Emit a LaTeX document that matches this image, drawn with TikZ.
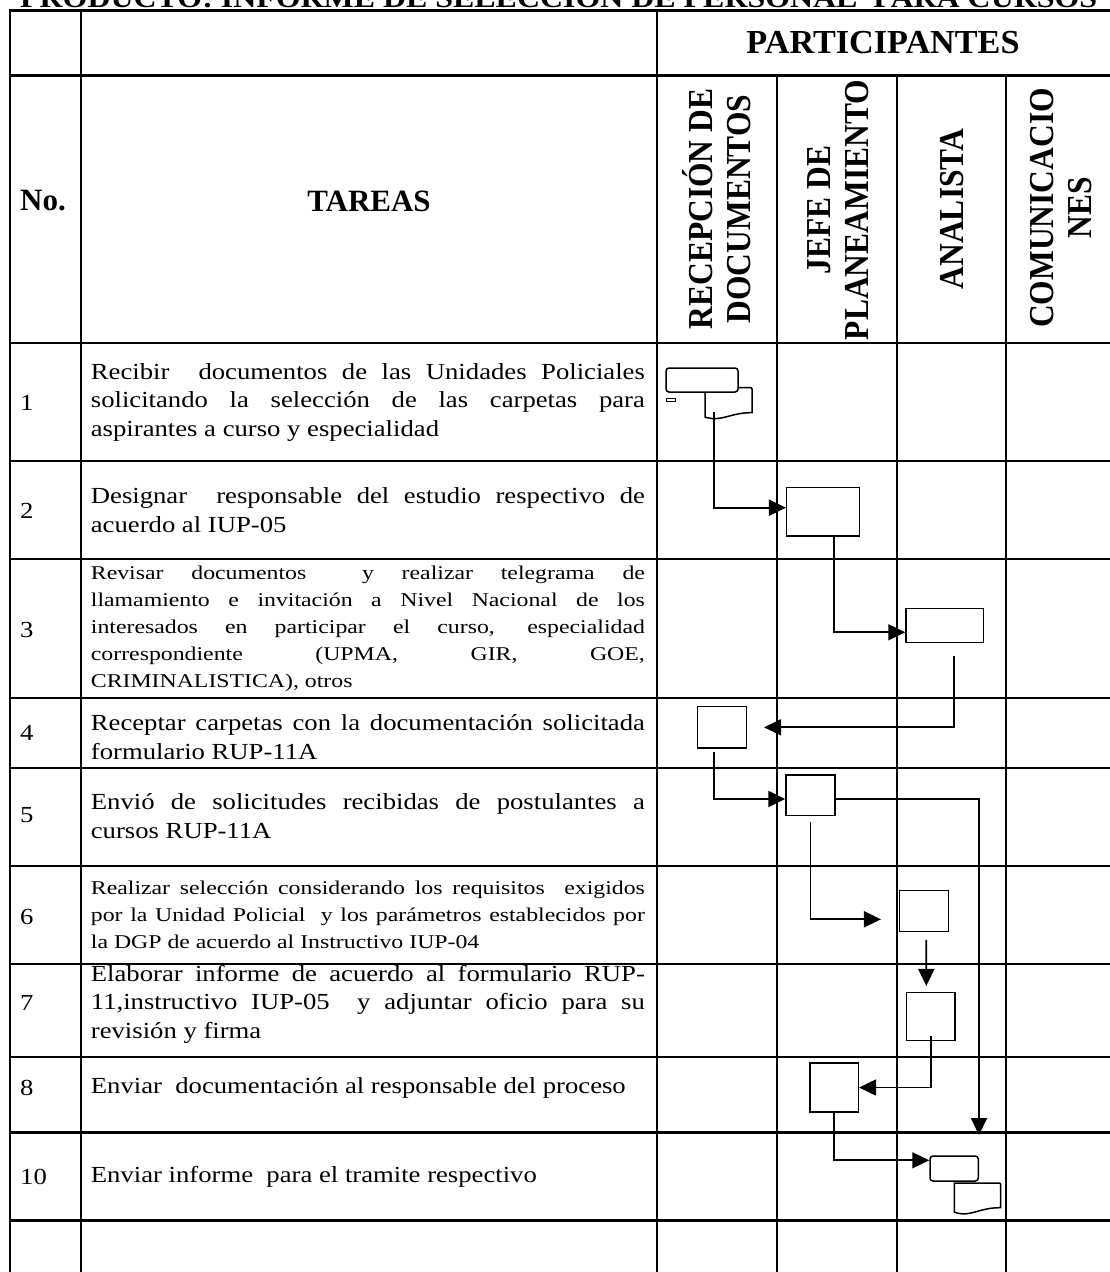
\documentclass[tikz,border=0pt]{standalone}
\usepackage{fontspec}
\setmainfont{Liberation Serif}
\newfontfamily\taskfont{Liberation Serif}[FakeStretch=1.16]
\newfontfamily\smallfont{Liberation Serif}[FakeStretch=1.22]
\newfontfamily\headfont{Liberation Serif}[FakeStretch=0.9]
\newfontfamily\titlefont{Liberation Serif}[FakeStretch=1.14]
\usetikzlibrary{arrows.meta}
\begin{document}
\begin{tikzpicture}[x=1pt,y=-1pt,
  grid/.style={line width=2.2pt, line cap=rect},
  box/.style={draw, line width=1.5pt, fill=white, inner sep=0pt},
  rbox/.style={box, rounded corners=3pt},
  docshape/.style={draw, line width=1.5pt, fill=white},
  conn/.style={line width=1.8pt, -{Triangle[length=17pt,width=16pt]}},
  task/.style={anchor=west, text width=554pt, align=justify, inner sep=0pt,
    font=\taskfont\fontsize{23}{28.5}\selectfont},
  smalltask/.style={task, font=\smallfont\fontsize{19.5}{27}\selectfont},
  num/.style={anchor=west, inner sep=0pt, font=\taskfont\fontsize{23}{28}\selectfont},
  vhead/.style={rotate=90, align=center, inner sep=0pt,
    font=\headfont\bfseries\fontsize{35}{38}\selectfont},
  hhead/.style={inner sep=0pt, font=\bfseries\fontsize{31}{36}\selectfont}
]
\useasboundingbox (0,0) rectangle (1109,1272);
\fill[white] (0,0) rectangle (1109,1272);

% title (cut off at the top, as in the reference)
\node[anchor=base west, inner sep=0pt, font=\titlefont\bfseries\fontsize{28}{34}\selectfont] (title) at (20,7)
  {PRODUCTO: INFORME DE SELECCIÓN DE PERSONAL\ \ PARA CURSOS};

% grid
\draw[grid] (10,10.5) -- (1109,10.5);
\draw[grid] (10,10.5) -- (10,1272);
\foreach \x in {80.7,656.7} \draw[grid] (\x,10.5) -- (\x,1272);
\foreach \x in {777,897,1006} \draw[grid] (\x,75.5) -- (\x,1272);
\foreach \y in {75.5,342.7,460.7,559,697.7,767.7,865.7,963.7,1056.7,1132.5,1220.5}
  \draw[grid] (10,\y) -- (1109,\y);

% headers
\node[inner sep=0pt, font=\titlefont\bfseries\fontsize{30}{36}\selectfont] (hpart) at (883,43) {\scalebox{1}[1.12]{PARTICIPANTES}};
\node[hhead, anchor=west] (hno) at (20,201) {No.};
\node[hhead] (htar) at (369,201) {TAREAS};
\node[vhead] (hrec) at (717,209) {RECEPCIÓN DE\\DOCUMENTOS};
\node[vhead] (hjef) at (838.5,210) {JEFE DE\\PLANEAMIENTO};
\node[vhead] (hana) at (951.7,209) {ANALISTA};
\node[vhead] (hcom) at (1061,208) {COMUNICACIO\\NES};

% numbers
\node[num] (n1) at (20,403) {1};
\node[num] (n2) at (20,511) {2};
\node[num] (n3) at (20,630) {3};
\node[num] (n4) at (20,733) {4};
\node[num] (n5) at (20,815) {5};
\node[num] (n6) at (20,917) {6};
\node[num] (n7) at (20,1003) {7};
\node[num] (n8) at (20,1088) {8};
\node[num] (n10) at (20,1177) {10};

% tasks
\node[task] (t1) at (90.7,402) {Recibir\ \ documentos de las Unidades Policiales\linebreak solicitando la selección de las carpetas para\linebreak aspirantes a curso y especialidad};
\node[task] (t2) at (90.7,510) {Designar\ \ responsable del estudio respectivo de\linebreak acuerdo al IUP-05};
\node[smalltask] (t3) at (90.7,629) {Revisar documentos\ \ y realizar telegrama de\linebreak llamamiento e invitación a Nivel Nacional de los\linebreak interesados en participar el curso, especialidad\linebreak correspondiente (UPMA, GIR, GOE,\linebreak CRIMINALISTICA), otros};
\node[task] (t4) at (90.7,737) {Receptar carpetas con la documentación solicitada\linebreak formulario RUP-11A};
\node[task] (t5) at (90.7,816) {Envió de solicitudes recibidas de postulantes a\linebreak cursos RUP-11A};
\node[smalltask] (t6) at (90.7,915) {Realizar selección considerando los requisitos\ \ exigidos\linebreak por la Unidad Policial\ \ y los parámetros establecidos por\linebreak la DGP de acuerdo al Instructivo IUP-04};
\node[task] (t7) at (90.7,1004) {Elaborar informe de acuerdo al formulario RUP-\linebreak 11,instructivo IUP-05\ \ y adjuntar oficio para su\linebreak revisión y firma};
\node[task] (t8) at (90.7,1088) {Enviar\ \ documentación al responsable del proceso};
\node[task] (t10) at (90.7,1177) {Enviar informe\ \ para el tramite respectivo};

% flow shapes
\node[inner sep=0pt, minimum width=47pt, minimum height=29.3pt] (d1) at (728.5,402.35) {};
\draw[docshape] (705,387.7) -- (751,387.7) to[out=0,in=90] (752,389) -- (752,412.7)
  .. controls (733,412.5) and (725,419.5) .. (712,418.5)
  .. controls (709,418.3) and (706,417.5) .. (705,417) -- cycle;
\node[rbox, minimum width=72pt, minimum height=24pt] (r1) at (702,380) {};
\node[draw, line width=1.1pt, minimum width=9pt, minimum height=3pt, inner sep=0pt] (mk) at (671,400) {};

\node[box, minimum width=72.6pt, minimum height=48.3pt] (b2) at (823,511.85) {};
\node[box, minimum width=77.3pt, minimum height=34.4pt] (b3) at (944.65,625.5) {};
\node[box, minimum width=49pt, minimum height=41.3pt] (b4) at (722.2,727.35) {};
\node[box, minimum width=49pt, minimum height=40.7pt] (b5) at (810.5,795.35) {};
\node[box, minimum width=49pt, minimum height=41pt] (b6) at (923.8,911.2) {};
\node[box, minimum width=48.7pt, minimum height=48.4pt] (b7) at (930.65,1016.5) {};
\node[box, minimum width=48.3pt, minimum height=49pt] (b8) at (834.15,1087.5) {};
\node[rbox, minimum width=48.3pt, minimum height=25pt] (r10) at (954.15,1168.5) {};
\node[inner sep=0pt, minimum width=46.4pt, minimum height=30pt] (d10) at (977.5,1198) {};
\draw[docshape] (954.3,1183) -- (999.7,1183) to[out=0,in=90] (1000.7,1184.3) -- (1000.7,1207.7)
  .. controls (982,1207.5) and (974,1214.5) .. (962,1213.8)
  .. controls (958,1213.5) and (955.5,1212.6) .. (954.3,1212) -- cycle;
\coordinate (e5) at (979,1135);

% connectors
\draw[conn] ([xshift=-14.5pt,yshift=5.3pt]d1.south) |- ([yshift=4.15pt]b2.west);
\draw[conn] ([xshift=11pt]b2.south) |- ([yshift=-6.8pt]b3.west);
\draw[conn] ([xshift=9.35pt,yshift=-12.3pt]b3.south) |- ([xshift=16.6pt]b4.east);
\draw[conn] ([xshift=-8.2pt,yshift=-3pt]b4.south) |- ([yshift=-3.65pt]b5.west);
\draw[conn] ([yshift=-3.65pt]b5.east) -| (e5);
\draw[conn] ([yshift=-6pt]b5.south) |- ([xshift=-17.6pt,yshift=-8.1pt]b6.west);
\draw[conn] ([xshift=2.5pt,yshift=-7.3pt]b6.south) -- ([xshift=-4.35pt,yshift=5.6pt]b7.north);
\draw[conn] ([yshift=5pt]b7.south) |- (b8.east);
\draw[conn] (b8.south) |- ([yshift=8.2pt]r10.west);
\end{tikzpicture}
\end{document}
